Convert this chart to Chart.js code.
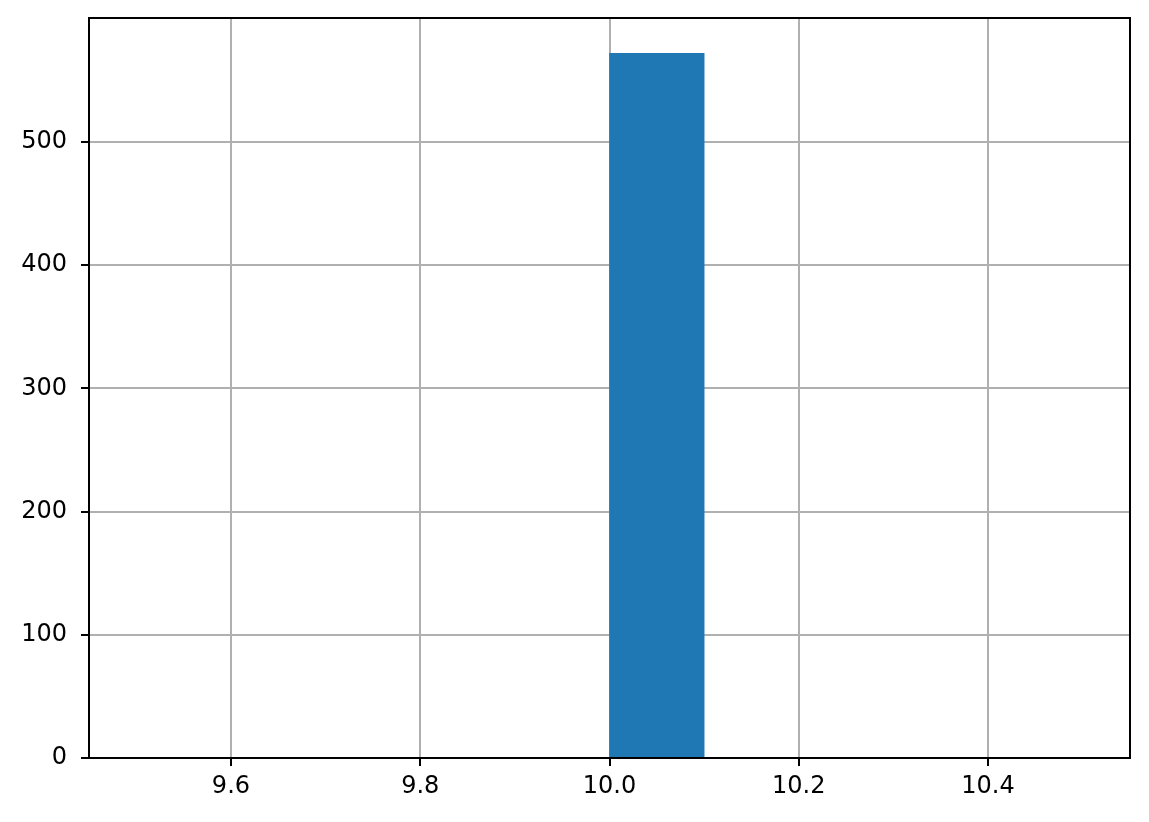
<!DOCTYPE html>
<html>
<head>
<meta charset="utf-8">
<script src="https://cdn.jsdelivr.net/npm/chart.js@4/dist/chart.umd.min.js"></script>
<style>
  html, body { margin: 0; padding: 0; background: #fff; }
  #wrap { width: 1149px; height: 822px; }
</style>
</head>
<body>
<div id="wrap"><canvas id="chart"></canvas></div>
<script>
// histogram bins (centres), counts per bin
const binCentres = [9.55, 9.65, 9.75, 9.85, 9.95, 10.05, 10.15, 10.25, 10.35, 10.45];
const counts = [0, 0, 0, 0, 0, 572, 0, 0, 0, 0];
const xTicks = [9.6, 9.8, 10.0, 10.2, 10.4];
const yTicks = [0, 100, 200, 300, 400, 500];

const frame = {
    id: 'frame',
    afterDraw(chart) {
        const { ctx, chartArea: a } = chart;
        ctx.save();
        ctx.strokeStyle = '#000';
        ctx.lineWidth = 2;
        ctx.strokeRect(a.left, a.top, a.right - a.left, a.bottom - a.top);
        ctx.restore();
    }
};

const font = { family: 'DejaVu Sans', size: 24 };

new Chart(document.getElementById('chart'), {
    type: 'bar',
    data: {
        datasets: [{
            data: binCentres.map((x, i) => ({ x: x, y: counts[i] })),
            backgroundColor: '#1f77b4',
            borderWidth: 0,
            barPercentage: 1,
            categoryPercentage: 1
        }]
    },
    options: {
        responsive: true,
        maintainAspectRatio: false,
        animation: false,
        layout: { padding: { top: 18, right: 19, left: 0, bottom: 0 } },
        plugins: { legend: { display: false }, tooltip: { enabled: false } },
        scales: {
            x: {
                type: 'linear',
                offset: false,
                min: 9.45,
                max: 10.55,
                afterBuildTicks: s => { s.ticks = xTicks.map(v => ({ value: v })); },
                afterFit: s => { s.height = 64; s.paddingLeft = 0; s.paddingRight = 0; },
                ticks: {
                    color: '#000',
                    font: font,
                    padding: 6,
                    maxRotation: 0,
                    autoSkip: false,
                    callback: v => v.toFixed(1)
                },
                grid: { offset: false, color: '#b0b0b0', lineWidth: 2, tickColor: '#000', tickLength: 8, tickWidth: 2 },
                border: { color: '#000', width: 2 }
            },
            y: {
                min: 0,
                max: 600.6,
                afterBuildTicks: s => { s.ticks = yTicks.map(v => ({ value: v })); },
                afterFit: s => { s.width = 89; s.paddingTop = 0; s.paddingBottom = 0; },
                ticks: { color: '#000', font: font, padding: 14 },
                grid: { color: '#b0b0b0', lineWidth: 2, tickColor: '#000', tickLength: 8, tickWidth: 2 },
                border: { color: '#000', width: 2 }
            }
        }
    },
    plugins: [frame]
});
</script>
</body>
</html>
